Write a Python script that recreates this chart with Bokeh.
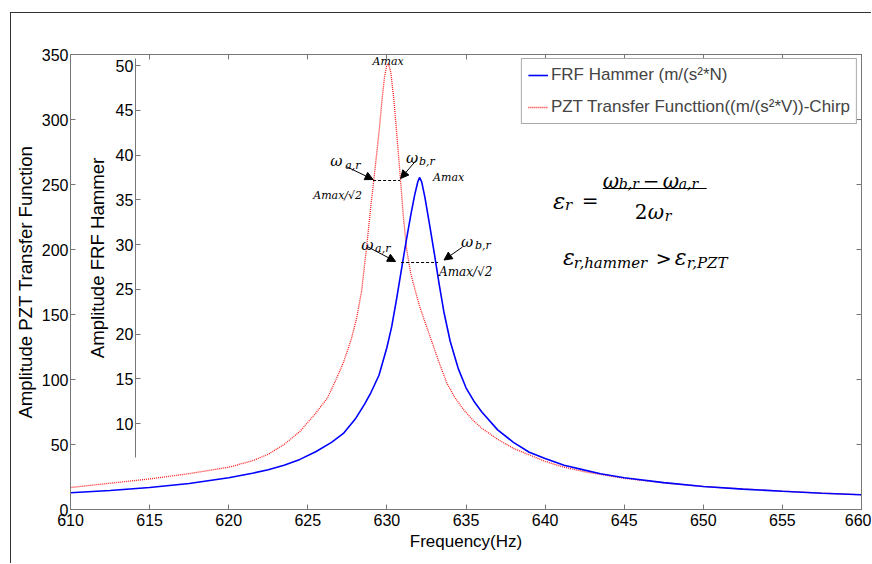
from bokeh.plotting import figure
from bokeh.models import (Range1d, LinearAxis, FixedTicker, Label, Arrow, NormalHead,
                          Legend, LegendItem, CustomJSTickFormatter)
from bokeh.embed import file_html
from bokeh.resources import INLINE

# ---------------- data ----------------
freq_ticks = [610, 615, 620, 625, 630, 635, 640, 645, 650, 655, 660]
pzt_ticks = [0, 50, 100, 150, 200, 250, 300, 350]
hammer_ticks = [10, 15, 20, 25, 30, 35, 40, 45, 50]

pzt_freq = [610, 612.5, 615, 617.5, 620, 621.5, 622.5, 623.5, 624.5, 625.5, 626.25, 626.75,
            627.25, 627.75, 628.1, 628.4, 628.7, 629.0, 629.25, 629.5, 629.7, 629.85,
            630.0, 630.1, 630.25, 630.45, 630.65, 630.85, 631.05, 631.25, 631.5, 631.8,
            632.1, 632.5, 632.9, 633.3, 633.8, 634.3, 634.9, 635.5, 636, 637, 638, 639,
            640, 641.2, 642.5, 643.5, 645, 647.5, 650, 652.5, 655, 657.5, 660]
pzt_amp = [16.9, 20.2, 23.5, 27.6, 32.5, 37.5, 42.5, 50, 60, 74, 86, 99,
           113, 131, 148, 168, 200, 235, 262, 290, 316, 333,
           342, 343, 336, 314, 285, 255, 224, 200, 182, 168,
           155, 141, 127, 113, 97, 86, 76, 68, 62.5, 54, 47, 42,
           37, 32.5, 29, 27, 24, 20.5, 17.7, 15.8, 14.1, 12.6, 11.3]

hammer_freq = [610, 612.5, 615, 617.5, 620, 621.5, 622.5, 623.5, 624.5, 625.5, 626.5,
               627.25, 628, 628.6, 629, 629.5, 630, 630.3, 630.6, 630.9, 631.2, 631.5,
               631.75, 631.95, 632.06, 632.2, 632.4, 632.7, 633.0, 633.3, 633.6, 634.0,
               634.5, 635, 635.5, 636, 637, 638, 639, 640, 641.2, 642.5, 643.5, 645,
               647.5, 650, 652.5, 655, 657.5, 660]
hammer_amp = [2.27, 2.52, 2.85, 3.3, 3.95, 4.45, 4.85, 5.35, 6.0, 6.85, 7.9,
              8.9, 10.5, 12.2, 13.5, 15.4, 18.5, 20.8, 23.8, 27.0, 30.2, 33.2,
              35.5, 37.0, 37.5, 37.0, 35.3, 32.2, 29.0, 25.6, 22.5, 19.2,
              16.2, 14.0, 12.5, 11.3, 9.3, 7.9, 6.8, 6.1, 5.35, 4.8, 4.4, 3.94,
              3.4, 2.97, 2.68, 2.44, 2.22, 2.04]

legend_labels = ["FRF Hammer (m/(s\u00b2*N)", "PZT Transfer Functtion((m/(s\u00b2*V))-Chirp"]
x_label = "Frequency(Hz)"
pzt_label = "Amplitude PZT Transfer Function"
hammer_label = "Amplitude FRF Hammer"

# ---------------- layout helpers ----------------
FRAME_L, FRAME_R, FRAME_T, FRAME_B = 69, 861, 54, 509
X0, X1, Y0, Y1 = 610, 660, 0, 350


def fx(px):
    return X0 + (px - FRAME_L) * (X1 - X0) / (FRAME_R - FRAME_L)


def fy(py):
    return Y0 + (FRAME_B - py) * (Y1 - Y0) / (FRAME_B - FRAME_T)


SANS = "Liberation Sans"
MATH = "DejaVu Serif"
AXIS_COLOR = "#777777"

p = figure(width=861, height=551, x_range=Range1d(X0, X1), y_range=Range1d(Y0, Y1),
           output_backend="svg", toolbar_location=None,
           min_border_left=56, min_border_right=11, min_border_top=41, min_border_bottom=55)
p.styles = {"margin-left": "10px", "margin-top": "12px",
            "border-left": "1px solid #333333", "border-top": "1px solid #333333"}
p.extra_y_ranges = {"hammer": Range1d(0.4, 51.24)}
p.grid.visible = False
p.outline_line_color = AXIS_COLOR
p.background_fill_color = "white"
p.border_fill_color = "white"


def style_axis(ax, ticks, size="16px"):
    ax.ticker = FixedTicker(ticks=ticks)
    ax.major_tick_in = 5
    ax.major_tick_out = 0
    ax.minor_tick_line_color = None
    ax.axis_line_color = AXIS_COLOR
    ax.major_tick_line_color = AXIS_COLOR
    ax.major_label_text_font = SANS
    ax.major_label_text_font_size = size
    ax.major_label_text_color = "black"
    ax.axis_label_text_font = SANS
    ax.axis_label_text_font_style = "normal"
    ax.axis_label_text_color = "black"


style_axis(p.xaxis[0], freq_ticks)
p.xaxis[0].major_label_standoff = 4
p.xaxis[0].axis_label = x_label
p.xaxis[0].axis_label_text_font_size = "17px"
p.xaxis[0].axis_label_standoff = 3

style_axis(p.yaxis[0], pzt_ticks)
p.yaxis[0].major_label_standoff = 2
p.yaxis[0].axis_label = pzt_label
p.yaxis[0].axis_label_text_font_size = "18.6px"
p.yaxis[0].axis_label_standoff = 3

ham_ax = LinearAxis(y_range_name="hammer", fixed_location=fx(134), bounds=(6.2, 50.8))
style_axis(ham_ax, hammer_ticks)
ham_ax.major_label_standoff = 2
ham_ax.axis_label = hammer_label
ham_ax.axis_label_text_font_size = "18.6px"
ham_ax.axis_label_standoff = 5
p.add_layout(ham_ax, "left")

blank = "return ''"
top_ax = LinearAxis(formatter=CustomJSTickFormatter(code=blank))
style_axis(top_ax, freq_ticks, size="1px")
top_ax.major_label_standoff = 0
p.add_layout(top_ax, "above")
right_ax = LinearAxis(formatter=CustomJSTickFormatter(code=blank))
style_axis(right_ax, pzt_ticks, size="1px")
right_ax.major_label_standoff = 0
p.add_layout(right_ax, "right")

# ---------------- curves ----------------
r_pzt = p.line(pzt_freq, pzt_amp, line_color="#ff1a1a", line_width=1.3, line_dash="1 1")
r_ham = p.line(hammer_freq, hammer_amp, y_range_name="hammer", line_color="#0000ff",
               line_width=1.6)

legend = Legend(items=[LegendItem(label=legend_labels[0], renderers=[r_ham]),
                       LegendItem(label=legend_labels[1], renderers=[r_pzt])],
                location="top_right", margin=4, padding=6, spacing=12,
                glyph_width=20, glyph_height=20, label_standoff=3,
                label_text_font=SANS, label_text_font_size="17px",
                border_line_color="#555555", border_line_width=1,
                background_fill_color="white", background_fill_alpha=1)
p.add_layout(legend)


# ---------------- annotations ----------------
def put(text, px, py, size, style="italic", font=MATH, align="left"):
    p.add_layout(Label(x=fx(px), y=fy(py), text=text, text_font=font,
                       text_font_style=style, text_font_size=f"{size}px",
                       text_baseline="alphabetic", text_align=align, text_color="black"))


def arrow(px0, py0, px1, py1):
    p.add_layout(Arrow(x_start=fx(px0), y_start=fy(py0), x_end=fx(px1), y_end=fy(py1),
                       line_width=1, line_color="black",
                       end=NormalHead(size=8, fill_color="black", line_color="black")))


def rule(px0, px1, py, dash="3 2"):
    p.add_layout(Arrow(x_start=fx(px0), y_start=fy(py), x_end=fx(px1), y_end=fy(py),
                       end=None, line_width=1, line_color="black", line_dash=dash))


# PZT peak markers
put("Amax", 387, 61, 11, align="center")
put("\u03c9", 329, 160, 15)
put("a,r", 344, 165, 11)
put("\u03c9", 405, 157, 15)
put("b,r", 418, 161, 11)
put("Amax/\u221a2", 312, 195, 11)
rule(372, 399, 180)
arrow(345, 166, 372, 179)
arrow(415, 160, 399.5, 178)

# Hammer peak markers
put("Amax", 432, 177, 11)
put("\u03c9", 360, 244, 15)
put("a,r", 374, 248, 11)
put("\u03c9", 460, 241.5, 15)
put("b,r", 474, 245, 11)
put("Amax/\u221a2", 438, 271, 12)
rule(400, 437, 262)
arrow(367, 246.5, 394.5, 261)
arrow(461.5, 246.5, 443, 259.5)

# damping ratio formula
put("\u03b5", 552, 200, 23)
put("r", 564, 204, 15)
put("=", 581, 200, 20, style="normal")
put("\u03c9", 602, 180, 20)
put("b,r", 618, 183, 14)
put("\u2212", 642, 180, 20, style="normal")
put("\u03c9", 662, 180, 20)
put("a,r", 678, 183, 14)
rule(602, 706, 188, dash="solid")
put("2", 634, 211, 20, style="normal")
put("\u03c9", 647, 211, 20)
put("r", 664, 215, 14)

put("\u03b5", 562, 257, 22)
put("r,hammer", 573, 262, 15)
put(">", 655, 257, 19, style="normal")
put("\u03b5", 674, 257, 22)
put("r,PZT", 686, 262, 15)

open("out.html", "w").write(file_html(p, INLINE))
